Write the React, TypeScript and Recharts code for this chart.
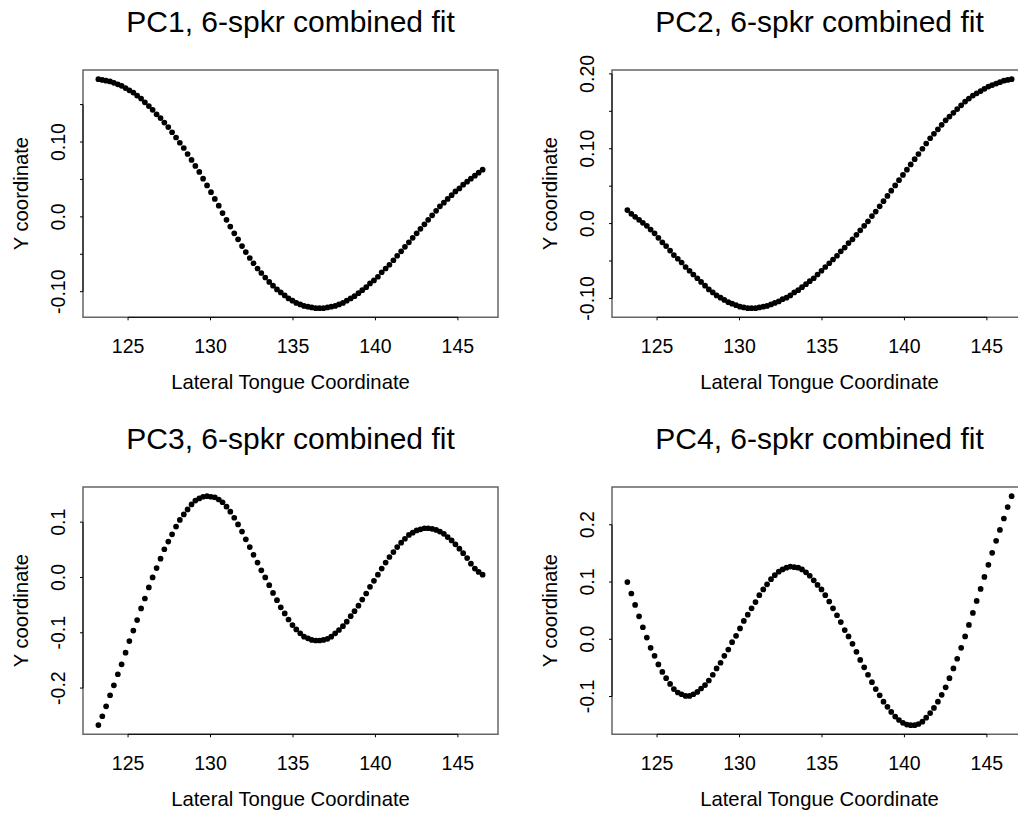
import React from 'react'
import { ScatterChart, Scatter, XAxis, YAxis, ReferenceArea, ReferenceLine } from 'recharts'

// lateral tongue coordinate of each fitted point (shared by all panels)
const xs = [
  123.2, 123.44, 123.67, 123.91, 124.14, 124.38, 124.61, 124.85, 125.08, 125.32,
  125.55, 125.79, 126.02, 126.26, 126.49, 126.73, 126.97, 127.2, 127.44, 127.67,
  127.91, 128.14, 128.38, 128.61, 128.85, 129.08, 129.32, 129.55, 129.79, 130.03,
  130.26, 130.5, 130.73, 130.97, 131.2, 131.44, 131.67, 131.91, 132.14, 132.38,
  132.61, 132.85, 133.08, 133.32, 133.56, 133.79, 134.03, 134.26, 134.5, 134.73,
  134.97, 135.2, 135.44, 135.67, 135.91, 136.14, 136.38, 136.61, 136.85, 137.09,
  137.32, 137.56, 137.79, 138.03, 138.26, 138.5, 138.73, 138.97, 139.2, 139.44,
  139.67, 139.91, 140.15, 140.38, 140.62, 140.85, 141.09, 141.32, 141.56, 141.79,
  142.03, 142.26, 142.5, 142.73, 142.97, 143.2, 143.44, 143.68, 143.91, 144.15,
  144.38, 144.62, 144.85, 145.09, 145.32, 145.56, 145.79, 146.03, 146.26, 146.5,
]

const pc1 = [
  0.184, 0.183, 0.182, 0.181, 0.179, 0.177, 0.175, 0.172, 0.169, 0.166,
  0.162, 0.158, 0.153, 0.148, 0.143, 0.137, 0.132, 0.126, 0.12, 0.113,
  0.106, 0.099, 0.092, 0.084, 0.076, 0.068, 0.06, 0.051, 0.042, 0.033,
  0.024, 0.015, 0.005, -0.004, -0.013, -0.022, -0.03, -0.039, -0.047, -0.055,
  -0.062, -0.069, -0.075, -0.081, -0.087, -0.092, -0.097, -0.101, -0.105, -0.109,
  -0.112, -0.115, -0.117, -0.119, -0.12, -0.121, -0.122, -0.122, -0.122, -0.121,
  -0.12, -0.119, -0.117, -0.115, -0.112, -0.109, -0.106, -0.102, -0.098, -0.094,
  -0.089, -0.085, -0.08, -0.074, -0.069, -0.064, -0.058, -0.052, -0.046, -0.04,
  -0.034, -0.028, -0.022, -0.016, -0.01, -0.004, 0.002, 0.008, 0.014, 0.019,
  0.024, 0.029, 0.034, 0.038, 0.043, 0.047, 0.051, 0.055, 0.059, 0.063,
]

const pc2 = [
  0.018, 0.013, 0.009, 0.005, 0.001, -0.003, -0.008, -0.013, -0.019, -0.025,
  -0.03, -0.036, -0.042, -0.047, -0.052, -0.058, -0.063, -0.068, -0.073, -0.078,
  -0.083, -0.088, -0.092, -0.096, -0.099, -0.102, -0.105, -0.107, -0.109, -0.111,
  -0.112, -0.113, -0.113, -0.113, -0.112, -0.111, -0.11, -0.108, -0.106, -0.104,
  -0.101, -0.099, -0.096, -0.092, -0.089, -0.085, -0.081, -0.077, -0.073, -0.068,
  -0.063, -0.058, -0.053, -0.048, -0.043, -0.037, -0.032, -0.026, -0.021, -0.015,
  -0.009, -0.003, 0.003, 0.01, 0.016, 0.023, 0.03, 0.037, 0.044, 0.051,
  0.058, 0.065, 0.072, 0.079, 0.086, 0.093, 0.1, 0.107, 0.114, 0.12,
  0.126, 0.132, 0.138, 0.143, 0.148, 0.153, 0.158, 0.163, 0.167, 0.171,
  0.174, 0.177, 0.18, 0.183, 0.185, 0.187, 0.189, 0.191, 0.192, 0.193,
]

const pc3 = [
  -0.267, -0.251, -0.233, -0.213, -0.195, -0.175, -0.157, -0.136, -0.115, -0.096,
  -0.077, -0.056, -0.038, -0.018, 0.0, 0.017, 0.034, 0.051, 0.065, 0.078,
  0.092, 0.104, 0.114, 0.123, 0.132, 0.139, 0.143, 0.146, 0.147, 0.146,
  0.145, 0.141, 0.136, 0.128, 0.119, 0.108, 0.096, 0.083, 0.069, 0.055,
  0.041, 0.027, 0.013, 0.0, -0.014, -0.028, -0.041, -0.054, -0.065, -0.076,
  -0.086, -0.094, -0.101, -0.107, -0.11, -0.113, -0.114, -0.114, -0.113, -0.111,
  -0.107, -0.101, -0.095, -0.088, -0.08, -0.07, -0.061, -0.051, -0.04, -0.029,
  -0.017, -0.006, 0.005, 0.016, 0.027, 0.037, 0.046, 0.055, 0.063, 0.07,
  0.077, 0.081, 0.085, 0.087, 0.089, 0.089, 0.088, 0.086, 0.083, 0.079,
  0.073, 0.067, 0.06, 0.052, 0.044, 0.035, 0.025, 0.016, 0.01, 0.005,
]

const pc4 = [
  0.1, 0.08, 0.06, 0.04, 0.021, 0.003, -0.015, -0.029, -0.044, -0.057,
  -0.068, -0.078, -0.087, -0.093, -0.096, -0.099, -0.099, -0.096, -0.092, -0.086,
  -0.08, -0.072, -0.062, -0.051, -0.041, -0.029, -0.018, -0.005, 0.006, 0.019,
  0.032, 0.043, 0.054, 0.065, 0.077, 0.087, 0.096, 0.105, 0.112, 0.118,
  0.122, 0.125, 0.127, 0.126, 0.125, 0.122, 0.117, 0.111, 0.103, 0.095,
  0.087, 0.077, 0.066, 0.054, 0.042, 0.03, 0.016, 0.005, -0.008, -0.022,
  -0.036, -0.049, -0.062, -0.075, -0.087, -0.098, -0.109, -0.118, -0.127, -0.135,
  -0.141, -0.146, -0.149, -0.15, -0.15, -0.148, -0.144, -0.137, -0.129, -0.12,
  -0.109, -0.097, -0.084, -0.068, -0.051, -0.034, -0.015, 0.005, 0.025, 0.046,
  0.067, 0.088, 0.109, 0.13, 0.151, 0.172, 0.191, 0.211, 0.231, 0.25,
]

const xTicks = [125, 130, 135, 140, 145]
const xDomain = [122.268, 147.432]

const pc1Ticks = [-0.1, -0.05, 0, 0.05, 0.1, 0.15]
const pc1Labels = ['-0.10', '', '0.0', '', '0.10', '']
const pc2Ticks = [-0.1, -0.05, 0, 0.05, 0.1, 0.15, 0.2]
const pc2Labels = ['-0.10', '', '0.0', '', '0.10', '', '0.20']
const pc3Ticks = [-0.2, -0.1, 0, 0.1]
const pc3Labels = ['-0.2', '-0.1', '0.0', '0.1']
const pc4Ticks = [-0.1, 0, 0.1, 0.2]
const pc4Labels = ['-0.1', '0.0', '0.1', '0.2']

const FONT = '"Liberation Sans", Arial, Helvetica, sans-serif'
const W = 509
const H = 407

function Dot(props: any) {
  return <circle cx={props.cx} cy={props.cy} r={2.85} fill="#000" />
}

function Panel({ title, ys, yDomain, yTicks, yLabels, left, top }: any) {
  const data = xs.map((x, i) => ({ x, y: ys[i] }))
  const XTick = (p: any) => (
    <text x={p.x} y={p.y + 31} textAnchor="middle" fontSize={19.5} fontFamily={FONT} fill="#000">
      {p.payload.value}
    </text>
  )
  const YTick = (p: any) => {
    const idx = yTicks.findIndex((t: number) => Math.abs(t - p.payload.value) < 1e-9)
    const tx = p.x - 12.5
    return (
      <text x={tx} y={p.y} transform={`rotate(-90, ${tx}, ${p.y})`} textAnchor="middle" fontSize={19.5} fontFamily={FONT} fill="#000">
        {idx >= 0 ? yLabels[idx] : ''}
      </text>
    )
  }
  return (
    <div style={{ position: 'absolute', left, top, width: W, height: H }}>
      <ScatterChart width={W} height={H} margin={{ top: 70, right: 11, left: 0, bottom: 29.7 }}>
        <XAxis
          type="number"
          dataKey="x"
          domain={xDomain}
          ticks={xTicks}
          allowDataOverflow
          axisLine={false}
          tickSize={3}
          tickLine={{ stroke: '#000' }}
          tick={XTick}
          height={60}
        />
        <YAxis
          type="number"
          dataKey="y"
          domain={yDomain}
          ticks={yTicks}
          allowDataOverflow
          axisLine={false}
          tickSize={3}
          tickLine={{ stroke: '#000' }}
          tick={YTick}
          width={83}
        />
        <ReferenceArea x1={xDomain[0]} x2={xDomain[1]} y1={yDomain[0]} y2={yDomain[1]} fill="none" stroke="#666" strokeWidth={1.5} fillOpacity={0} />
        <ReferenceLine segment={[{ x: 125, y: yDomain[0] }, { x: 145, y: yDomain[0] }]} stroke="#000" />
        <ReferenceLine segment={[{ x: xDomain[0], y: yTicks[0] }, { x: xDomain[0], y: yTicks[yTicks.length - 1] }]} stroke="#000" />
        <Scatter data={data} shape={Dot} isAnimationActive={false} />
      </ScatterChart>
      <svg width={W} height={H} style={{ position: 'absolute', left: 0, top: 0, pointerEvents: 'none' }}>
        <text x={290.5} y={31.7} textAnchor="middle" fontSize={30} fontFamily={FONT} fill="#000">{title}</text>
        <text x={290.5} y={389.3} textAnchor="middle" fontSize={20.3} fontFamily={FONT} fill="#000">Lateral Tongue Coordinate</text>
        <text x={28.3} y={193.6} transform="rotate(-90, 28.3, 193.6)" textAnchor="middle" fontSize={20.3} fontFamily={FONT} fill="#000">Y coordinate</text>
      </svg>
    </div>
  )
}

export default function App() {
  return (
    <div style={{ position: 'absolute', left: 0, top: 0, width: 1018, height: 815, overflow: 'hidden', background: '#fff' }}>
      <Panel title="PC1, 6-spkr combined fit" ys={pc1} yDomain={[-0.1342, 0.1962]} yTicks={pc1Ticks} yLabels={pc1Labels} left={0} top={0} />
      <Panel title="PC2, 6-spkr combined fit" ys={pc2} yDomain={[-0.1252, 0.2052]} yTicks={pc2Ticks} yLabels={pc2Labels} left={528.7} top={0} />
      <Panel title="PC3, 6-spkr combined fit" ys={pc3} yDomain={[-0.2836, 0.1636]} yTicks={pc3Ticks} yLabels={pc3Labels} left={0} top={417.3} />
      <Panel title="PC4, 6-spkr combined fit" ys={pc4} yDomain={[-0.166, 0.266]} yTicks={pc4Ticks} yLabels={pc4Labels} left={528.7} top={417.3} />
    </div>
  )
}
